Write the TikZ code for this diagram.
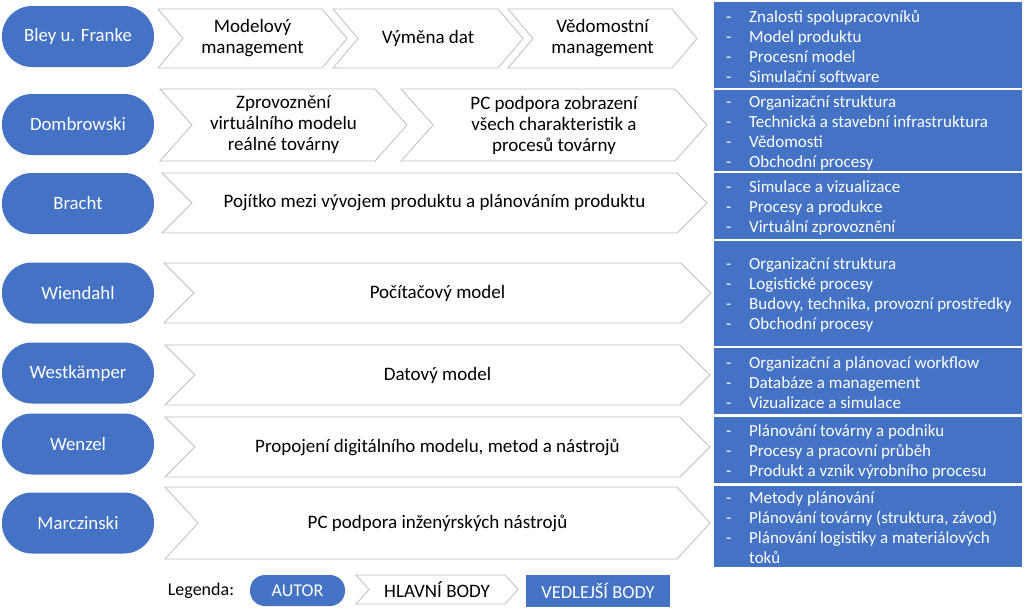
\documentclass[tikz,border=0pt]{standalone}
\usepackage{fontspec}
\setmainfont{Carlito}
\usetikzlibrary{positioning}
\definecolor{autorblue}{HTML}{4472C4}
\definecolor{chevgray}{HTML}{BFBFBF}
\tikzset{autor/.style={rectangle,rounded corners=30pt,fill=autorblue,text=white,minimum width=152pt,minimum height=61pt,font=\fontsize{18.8}{21}\selectfont}}
\tikzset{hlavni/.style={draw=chevgray,fill=white,line width=0.8pt}}
\tikzset{hlavnitext/.style={align=center,inner sep=0pt,font=\fontsize{19}{21}\selectfont}}
\tikzset{vedlejsi/.style={rectangle,fill=autorblue,minimum width=308pt,inner sep=0pt}}
\tikzset{vedlejsitext/.style={anchor=west,align=left,text=white,inner sep=0pt,font=\fontsize{17}{20}\selectfont}}
\newcommand{\bod}{\makebox[23pt][l]{-}}
\newcommand{\chevron}[7]{%
  \draw[hlavni] (#2,#4) -- (#3-#6,#4) -- (#3,{(#4+#5)/2}) -- (#3-#6,#5) -- (#2,#5) -- (#2+#6,{(#4+#5)/2}) -- cycle;
  \node[hlavnitext] (#1) at ({(#2+#3)/2},{(#4+#5)/2}) {#7};}

\begin{document}
\begin{tikzpicture}[x=1pt,y=-1pt]
\useasboundingbox (0,0) rectangle (1024,608);

% autori
\node[autor] (bley) at (78,36.5) {Bley u. Franke};
\node[autor] (dombrowski) at (78,124.5) {Dombrowski};
\node[autor] (bracht) at (78,203.5) {Bracht};
\node[autor] (wiendahl) at (78,293) {Wiendahl};
\node[autor] (westkamper) at (78,373) {Westkämper};
\node[autor] (wenzel) at (78,444) {Wenzel};
\node[autor] (marczinski) at (78,523) {Marczinski};

% hlavni body
\chevron{modelovy}{158}{347}{9}{68}{25}{Modelový\\management}
\chevron{vymena}{333}{523}{9}{68}{25}{Výměna dat}
\chevron{vedomostni}{508}{697}{9}{68}{25}{Vědomostní\\management}
\chevron{zprovozneni}{160}{407}{89}{161}{32}{Zprovoznění\\virtuálního modelu\\reálné továrny}
\chevron{pcpodpora}{401}{707}{89}{161}{32}{PC podpora zobrazení\\všech charakteristik a\\procesů továrny}
\chevron{pojitko}{162}{707}{173}{233}{30}{Pojítko mezi vývojem produktu a plánováním produktu}
\chevron{pocitacovy}{164}{711}{263}{323}{30}{Počítačový model}
\chevron{datovy}{165}{710}{345}{405}{30}{Datový model}
\chevron{propojeni}{165}{710}{417}{477}{30}{Propojení digitálního modelu, metod a nástrojů}
\chevron{inzenyrske}{165}{710}{487}{559}{33}{PC podpora inženýrských nástrojů}

% vedlejsi body
\node[vedlejsi,minimum height=86pt] (v1) at (868,45) {};
\node[vedlejsitext] (v1t) at (726,46.5) {\bod Znalosti spolupracovníků\\\bod Model produktu\\\bod Procesní model\\\bod Simulační software};
\node[vedlejsi,minimum height=81pt] (v2) at (868,130.5) {};
\node[vedlejsitext] (v2t) at (726,132.5) {\bod Organizační struktura\\\bod Technická a stavební infrastruktura\\\bod Vědomosti\\\bod Obchodní procesy};
\node[vedlejsi,minimum height=66pt] (v3) at (868,206) {};
\node[vedlejsitext] (v3t) at (726,208) {\bod Simulace a vizualizace\\\bod Procesy a produkce\\\bod Virtuální zprovoznění};
\node[vedlejsi,minimum height=105pt] (v4) at (868,293.5) {};
\node[vedlejsitext] (v4t) at (726,295) {\bod Organizační struktura\\\bod Logistické procesy\\\bod Budovy, technika, provozní prostředky\\\bod Obchodní procesy};
\node[vedlejsi,minimum height=66pt] (v5) at (868,381) {};
\node[vedlejsitext] (v5t) at (726,383) {\bod Organizační a plánovací workflow\\\bod Databáze a management\\\bod Vizualizace a simulace};
\node[vedlejsi,minimum height=66pt] (v6) at (868,450) {};
\node[vedlejsitext] (v6t) at (726,452) {\bod Plánování továrny a podniku\\\bod Procesy a pracovní průběh\\\bod Produkt a vznik výrobního procesu};
\node[vedlejsi,minimum height=81pt] (v7) at (868,526.5) {};
\node[vedlejsitext] (v7t) at (726,528) {\bod Metody plánování\\\bod Plánování továrny (struktura, závod)\\\bod Plánování logistiky a materiálových\\\makebox[23pt]{}toků};

% legenda
\node[font=\fontsize{18}{21}\selectfont] (legenda) at (201,591) {Legenda:};
\node[autor,minimum width=95pt,minimum height=31pt,rounded corners=15pt,font=\fontsize{18}{21}\selectfont] (legautor) at (297.5,590.5) {AUTOR};
\chevron{leghlavni}{356}{518}{575}{604}{13}{HLAVNÍ BODY}
\node[vedlejsi,minimum width=144pt,minimum height=32pt,text=white,font=\fontsize{18.5}{21}\selectfont] (legvedlejsi) at (598,591) {VEDLEJŠÍ BODY};
\end{tikzpicture}
\end{document}
